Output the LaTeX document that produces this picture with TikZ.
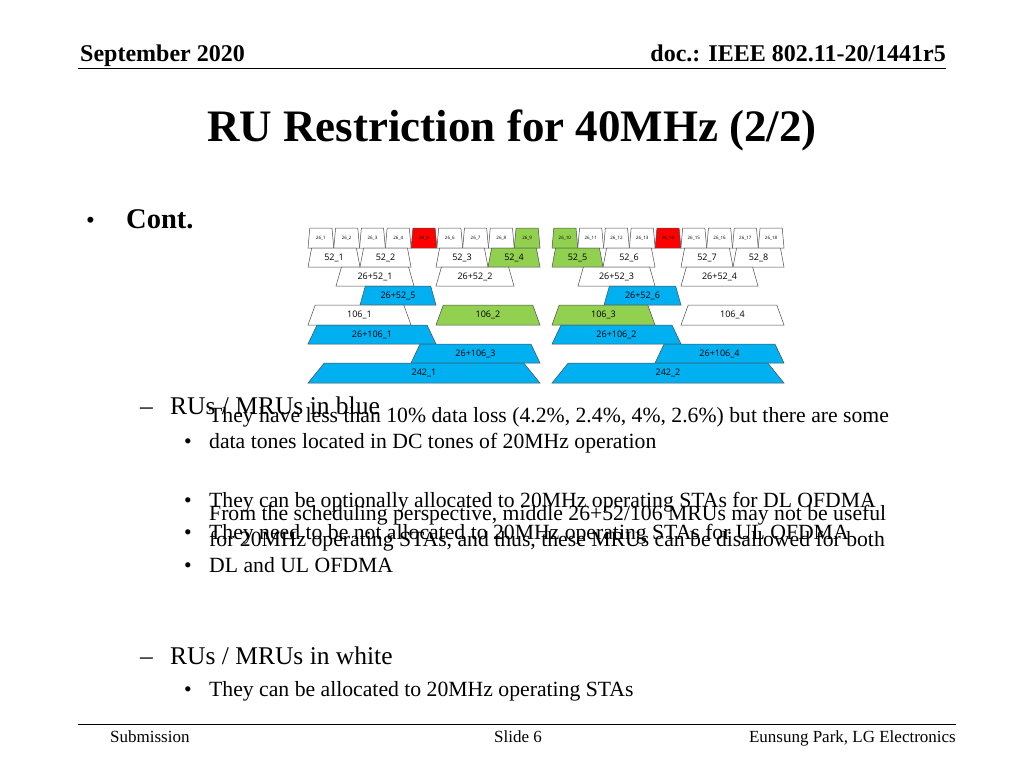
\documentclass[tikz,border=0pt]{standalone}
\usepackage{fontspec}
\setmainfont{Liberation Serif}
\newfontfamily\rufont{Open Sans}
\definecolor{rublue}{RGB}{0,176,240}
\definecolor{rugreen}{RGB}{146,208,80}
\definecolor{rured}{RGB}{255,0,0}
\newcommand{\trap}[8]{%
  \pgfmathsetmacro{\ins}{0.07*(#2-#1)}
  \draw[draw=black!70,line width=0.5pt,fill=#5] (#1,#4) -- (#2,#4) -- ({#2-\ins},#3) -- ({#1+\ins},#3) -- cycle;
  \node[font=\rufont\fontsize{#7}{#7}\selectfont] (#8) at ({(#1+#2)/2},{(#3+#4)/2}) {#6};}
\begin{document}
\begin{tikzpicture}[x=1pt,y=-1pt]
\useasboundingbox (0,0) rectangle (1024,768);
\tikzset{hdr/.style={font=\bfseries\fontsize{24}{26}\selectfont,inner sep=0pt},
 lvl1/.style={anchor=base west,inner sep=0pt,font=\fontsize{25.5}{28}\selectfont},
 lvl2/.style={anchor=base west,font=\fontsize{21.7}{26}\selectfont,align=left,inner sep=0pt},
 foot/.style={anchor=base,inner sep=0pt,font=\fontsize{17}{19}\selectfont}}
\node[hdr,anchor=base west] (h1) at (80,61) {September 2020};
\node[hdr,anchor=base east] (h2) at (946,61) {doc.: IEEE 802.11-20/1441r5};
\draw[line width=0.8pt] (78,68) -- (946,68);
\node[font=\bfseries\fontsize{45}{50}\selectfont] (title) at (512,130) {RU Restriction for 40MHz (2/2)};
\node[anchor=base west,inner sep=0pt,font=\fontsize{25}{28}\selectfont] (b0) at (86,228) {•};
\node[anchor=base west,inner sep=0pt,font=\bfseries\fontsize{28.5}{30}\selectfont] (cont) at (126,228) {Cont.};
% row 1
\foreach \i in {1,...,9}{
  \pgfmathsetmacro{\xa}{308+(\i-1)*25.78}\pgfmathsetmacro{\xb}{308+\i*25.78}
  \ifnum\i=5 \def\c{rured}\else\ifnum\i=9 \def\c{rugreen}\else\def\c{white}\fi\fi
  \trap{\xa}{\xb}{228}{248}{\c}{26\_\i}{4.5}{t\i}}
\foreach \i in {10,...,18}{
  \pgfmathsetmacro{\xa}{552+(\i-10)*25.78}\pgfmathsetmacro{\xb}{552+(\i-9)*25.78}
  \ifnum\i=14 \def\c{rured}\else\ifnum\i=10 \def\c{rugreen}\else\def\c{white}\fi\fi
  \trap{\xa}{\xb}{228}{248}{\c}{26\_\i}{4.5}{t\i}}
% row 2
\trap{308}{360}{248}{267}{white}{52\_1}{9}{a1}
\trap{360}{411}{248}{267}{white}{52\_2}{9}{a2}
\trap{436}{488}{248}{267}{white}{52\_3}{9}{a3}
\trap{488}{540}{248}{267}{rugreen}{52\_4}{9}{a4}
\trap{552}{603}{248}{267}{rugreen}{52\_5}{9}{a5}
\trap{603}{655}{248}{267}{white}{52\_6}{9}{a6}
\trap{681}{733}{248}{267}{white}{52\_7}{9}{a7}
\trap{733}{784}{248}{267}{white}{52\_8}{9}{a8}
% row 3
\trap{336}{414}{267}{286}{white}{26+52\_1}{9}{b1}
\trap{436}{514}{267}{286}{white}{26+52\_2}{9}{b2}
\trap{578}{655}{267}{286}{white}{26+52\_3}{9}{b3}
\trap{681}{758}{267}{286}{white}{26+52\_4}{9}{b4}
% row 4
\trap{360}{436}{286}{305}{rublue}{26+52\_5}{9}{b5}
\trap{604}{681}{286}{305}{rublue}{26+52\_6}{9}{b6}
% row 5
\trap{308}{411}{305}{325}{white}{106\_1}{9}{c1}
\trap{436}{540}{305}{325}{rugreen}{106\_2}{9}{c2}
\trap{552}{655}{305}{325}{rugreen}{106\_3}{9}{c3}
\trap{681}{784}{305}{325}{white}{106\_4}{9}{c4}
% row 6
\trap{308}{436}{325}{344}{rublue}{26+106\_1}{9}{e1}
\trap{552}{681}{325}{344}{rublue}{26+106\_2}{9}{e2}
% row 7
\trap{411}{540}{344}{363}{rublue}{26+106\_3}{9}{e3}
\trap{655}{784}{344}{363}{rublue}{26+106\_4}{9}{e4}
% row 8
\trap{308}{540}{363}{383}{rublue}{242\_1}{9}{f1r}
\trap{552}{784}{363}{383}{rublue}{242\_2}{9}{f2r}
% text
\node[lvl1] (d1a) at (140,414) {–};
\node[lvl1] (d1) at (170,414) {RUs / MRUs in blue};
\foreach \y/\t in {448/{They have less than 10\% data loss (4.2\%, 2.4\%, 4\%, 2.6\%) but there are some\\data tones located in DC tones of 20MHz operation},
 507/{They can be optionally allocated to 20MHz operating STAs for DL OFDMA},
 539/{They need to be not allocated to 20MHz operating STAs for UL OFDMA},
 572/{From the scheduling perspective, middle 26+52/106 MRUs may not be useful\\for 20MHz operating STAs, and thus, these MRUs can be disallowed for both\\DL and UL OFDMA},
 696/{They can be allocated to 20MHz operating STAs}}{
  \node[lvl2] at (184,\y) {•};
  \node[lvl2] at (209,\y) {\t};}
\node[lvl1] (d2a) at (140,664) {–};
\node[lvl1] (d2) at (170,664) {RUs / MRUs in white};
\draw[line width=0.8pt] (78,724) -- (956,724);
\node[foot,anchor=base west] (f1) at (110,742) {Submission};
\node[foot] (f2) at (518,742) {Slide 6};
\node[foot,anchor=base east] (f3) at (956,742) {Eunsung Park, LG Electronics};
\end{tikzpicture}
\end{document}
